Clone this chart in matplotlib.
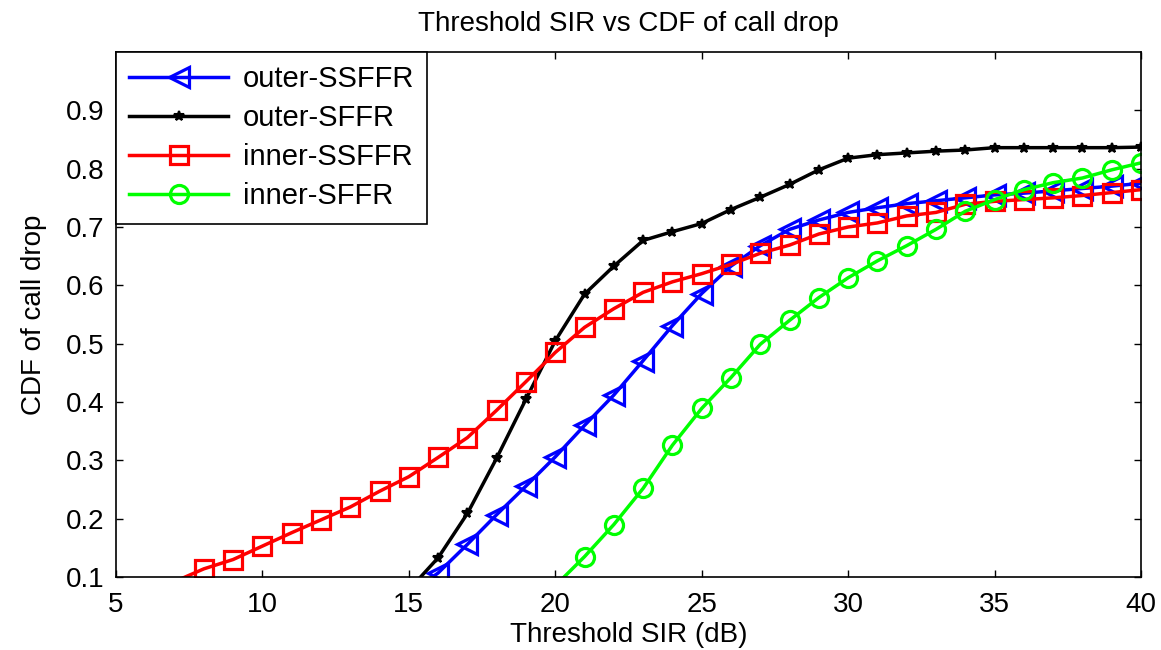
"""
Threshold SIR vs CDF of call drop for inner/outer users under SFFR and SSFFR.
"""

import matplotlib
matplotlib.use("Agg")
import matplotlib.pyplot as plt

plt.rcParams["font.family"] = ["Liberation Sans", "DejaVu Sans"]

# threshold SIR (dB) for each series and the CDF values
outer_ssffr_x = list(range(15, 41))
outer_ssffr_y = [0.07, 0.107, 0.156, 0.207, 0.256, 0.306, 0.360, 0.412, 0.471,
                 0.531, 0.586, 0.633, 0.668, 0.696, 0.712, 0.725, 0.733, 0.740,
                 0.745, 0.750, 0.755, 0.758, 0.762, 0.766, 0.770, 0.775]

outer_sffr_x = list(range(15, 41))
outer_sffr_y = [0.078, 0.133, 0.209, 0.304, 0.405, 0.505, 0.585, 0.633, 0.677,
                0.692, 0.706, 0.730, 0.751, 0.773, 0.798, 0.818, 0.824, 0.827,
                0.830, 0.832, 0.836, 0.836, 0.836, 0.836, 0.836, 0.837]

inner_ssffr_x = list(range(7, 41))
inner_ssffr_y = [0.092, 0.114, 0.130, 0.153, 0.176, 0.198, 0.220, 0.247, 0.272,
                 0.305, 0.339, 0.386, 0.435, 0.485, 0.528, 0.560, 0.588, 0.606,
                 0.620, 0.636, 0.655, 0.669, 0.688, 0.700, 0.707, 0.719, 0.725,
                 0.739, 0.744, 0.747, 0.750, 0.754, 0.759, 0.764]

inner_sffr_x = list(range(20, 41))
inner_sffr_y = [0.085, 0.135, 0.190, 0.252, 0.326, 0.389, 0.442, 0.499, 0.540,
                0.579, 0.613, 0.642, 0.668, 0.696, 0.727, 0.747, 0.764, 0.776,
                0.784, 0.798, 0.810]

x_ticks = [5, 10, 15, 20, 25, 30, 35, 40]
y_ticks = [0.1, 0.2, 0.3, 0.4, 0.5, 0.6, 0.7, 0.8, 0.9]

Y_MIN, Y_MAX = 0.1, 1.0
FONT_SIZE = 20


def visible_points(values):
    """Indices of points inside the y range (markers outside are not drawn)."""
    return [i for i, v in enumerate(values) if Y_MIN <= v <= Y_MAX]


figure = plt.figure(figsize=(11.61, 6.5), dpi=100)
axis = figure.add_axes([0.0999, 0.1123, 0.8829, 0.8077])

line_style = dict(linewidth=2.5, markerfacecolor="none", markeredgewidth=2.3)

axis.plot(outer_ssffr_x, outer_ssffr_y, color="#0000ff", marker="<",
          markersize=14, markevery=visible_points(outer_ssffr_y),
          label="outer-SSFFR", **line_style)
axis.plot(outer_sffr_x, outer_sffr_y, color="black", marker="*",
          markersize=7, linewidth=2.5, markeredgewidth=1.5,
          markevery=visible_points(outer_sffr_y), label="outer-SFFR")
axis.plot(inner_ssffr_x, inner_ssffr_y, color="#ff0000", marker="s",
          markersize=13, markevery=visible_points(inner_ssffr_y),
          label="inner-SSFFR", **line_style)
axis.plot(inner_sffr_x, inner_sffr_y, color="#00ff00", marker="o",
          markersize=13, markevery=visible_points(inner_sffr_y),
          label="inner-SFFR", **line_style)

axis.set_xlim(5, 40)
axis.set_ylim(Y_MIN, Y_MAX)
axis.set_xticks(x_ticks)
axis.set_yticks(y_ticks)
axis.set_yticklabels([f"{v:.1f}" for v in y_ticks])
axis.tick_params(direction="in", top=True, right=True, length=5, width=1,
                 labelsize=FONT_SIZE)
axis.tick_params(axis="x", pad=11)
axis.tick_params(axis="y", pad=8)
for spine in axis.spines.values():
    spine.set_linewidth(1.2)

axis.set_title("Threshold SIR vs CDF of call drop", fontsize=FONT_SIZE, pad=15)
axis.set_xlabel("Threshold SIR (dB)", fontsize=FONT_SIZE, labelpad=3)
axis.set_ylabel("CDF of call drop", fontsize=FONT_SIZE, labelpad=14)

legend = axis.legend(loc="upper left", fontsize=21, fancybox=False,
                     framealpha=1, edgecolor="black", borderaxespad=0,
                     handlelength=3.4, labelspacing=0.38, borderpad=0.45,
                     handletextpad=0.5)
legend.get_frame().set_linewidth(1.2)

figure.savefig("out.png", dpi=100)
plt.close(figure)
